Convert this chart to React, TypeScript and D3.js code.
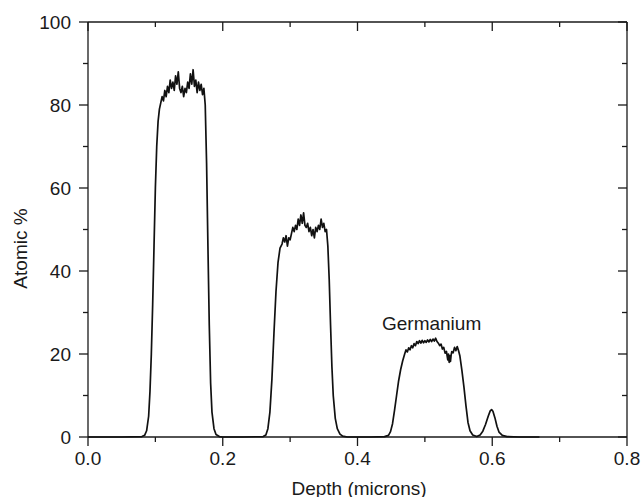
import React from "react";
import * as d3 from "d3";

// ---- data ----
const xMajorTicks = [0.0, 0.2, 0.4, 0.6, 0.8];
const xMinorTicks = [0.1, 0.3, 0.5, 0.7];
const yMajorTicks = [0, 20, 40, 60, 80, 100];
const yMinorTicks = [10, 30, 50, 70, 90];
const xTickLabels = ["0.0", "0.2", "0.4", "0.6", "0.8"];
const yTickLabels = ["0", "20", "40", "60", "80", "100"];

const xTitle = "Depth (microns)";
const yTitle = "Atomic %";
const annotation = { text: "Germanium", depth: 0.51, value: 25.8 };

// [depth (microns), atomic %]
const baselineStart: [number, number][] = [
  [0.0, 0], [0.05, 0], [0.08, 0.1], [0.084, 0.4],
];
const peak1: [number, number][] = [
  [0.087, 1.5], [0.09, 5], [0.092, 11], [0.094, 20], [0.096, 32], [0.098, 46],
  [0.1, 60], [0.102, 70], [0.104, 76], [0.106, 79], [0.108, 80.5],
  [0.110, 82], [0.112, 81], [0.114, 83.5], [0.116, 82], [0.118, 84.5],
  [0.120, 83], [0.122, 86], [0.124, 84], [0.126, 85.5], [0.128, 83.5],
  [0.130, 87], [0.132, 85], [0.134, 88], [0.136, 84], [0.138, 83],
  [0.140, 84.5], [0.142, 82], [0.144, 84], [0.146, 83], [0.148, 85.5],
  [0.150, 84], [0.152, 87.5], [0.154, 85], [0.156, 88.5], [0.158, 84.5],
  [0.160, 86], [0.162, 83], [0.164, 85.5], [0.166, 83.5], [0.168, 85],
  [0.170, 82.5], [0.172, 84], [0.174, 80], [0.176, 66], [0.178, 46],
  [0.180, 27], [0.182, 13], [0.184, 6], [0.187, 2], [0.190, 0.6],
  [0.195, 0.1], [0.2, 0],
];
const gap1: [number, number][] = [[0.23, 0], [0.26, 0.1]];
const peak2: [number, number][] = [
  [0.264, 0.5], [0.267, 2], [0.27, 6], [0.273, 14], [0.276, 25], [0.279, 35],
  [0.282, 42], [0.285, 45.5],
  [0.288, 46.5], [0.290, 48], [0.292, 47], [0.294, 48.5], [0.296, 46],
  [0.298, 48], [0.300, 47.5], [0.302, 49], [0.304, 50.5], [0.306, 49.5],
  [0.308, 51], [0.310, 50], [0.312, 52.5], [0.314, 51], [0.316, 53.5],
  [0.318, 51.5], [0.320, 54], [0.322, 51], [0.324, 50.5], [0.326, 51.5],
  [0.328, 49.5], [0.330, 50.5], [0.332, 48.5], [0.334, 50], [0.336, 48],
  [0.338, 50.5], [0.340, 49.5], [0.342, 51], [0.344, 50], [0.346, 52.5],
  [0.348, 50.5], [0.350, 51.5], [0.352, 49.5], [0.354, 50], [0.356, 46],
  [0.358, 38], [0.360, 27], [0.362, 17], [0.364, 10], [0.367, 4.5],
  [0.370, 2], [0.374, 0.7], [0.378, 0.2], [0.385, 0], [0.39, 0],
];
const gap2: [number, number][] = [[0.42, 0], [0.44, 0.1]];
const peak3: [number, number][] = [
  [0.446, 0.4], [0.449, 1.3], [0.452, 3.2], [0.455, 6.5], [0.458, 10],
  [0.461, 13.5], [0.464, 16.2], [0.467, 18.3],
  [0.470, 20], [0.472, 21], [0.474, 20.5], [0.476, 21.5], [0.478, 21],
  [0.480, 22], [0.482, 21.5], [0.484, 22.5], [0.486, 22], [0.488, 23],
  [0.490, 22.5], [0.492, 23.2], [0.494, 22.6], [0.496, 23.3], [0.498, 22.7],
  [0.500, 23.2], [0.502, 22.8], [0.504, 23.4], [0.506, 22.9], [0.508, 23.5],
  [0.510, 23], [0.512, 23.6], [0.514, 23.1], [0.516, 23.8], [0.518, 23],
  [0.520, 22.6], [0.522, 22], [0.524, 22.4], [0.526, 21.2], [0.528, 21.6],
  [0.530, 20.2], [0.532, 20.6], [0.534, 18.6], [0.535, 20], [0.536, 18],
  [0.537, 19.6], [0.538, 18.2], [0.539, 19.8],
  [0.540, 20.6], [0.542, 20.3], [0.544, 21.6], [0.546, 20.8], [0.548, 21.8],
  [0.550, 20.8], [0.552, 19.5],
  [0.555, 16], [0.558, 12], [0.561, 7.5], [0.564, 3.5], [0.567, 1.5],
  [0.571, 0.5], [0.577, 0.1],
];
const peak4: [number, number][] = [
  [0.582, 0.5], [0.586, 1.4], [0.590, 3], [0.594, 5], [0.597, 6.3],
  [0.599, 6.6], [0.601, 6.2], [0.604, 4.6], [0.607, 2.6], [0.610, 1.2],
  [0.615, 0.4], [0.622, 0.1], [0.64, 0], [0.67, 0],
];
const profile: [number, number][] = [
  ...baselineStart, ...peak1, ...gap1, ...peak2, ...gap2, ...peak3, ...peak4,
];

// ---- layout ----
const W = 642;
const H = 497;
const M = { left: 88, right: 15, top: 22, bottom: 60 };
const FONT = "Liberation Sans, Arial, sans-serif";
const FS = 19;

export default function App() {
  const x = d3.scaleLinear().domain([0, 0.8]).range([M.left, W - M.right]);
  const y = d3.scaleLinear().domain([0, 100]).range([H - M.bottom, M.top]);
  const line = d3
    .line<[number, number]>()
    .x((d) => x(d[0]))
    .y((d) => y(d[1]));

  const x0 = x(0), x1 = x(0.8), y0 = y(0), y1 = y(100);
  const maj = 9, min = 5;
  const axisColor = "#1a1a1a";

  return (
    <svg
      width={W}
      height={H}
      style={{ position: "absolute", left: 0, top: 0, background: "#fff" }}
      fontFamily={FONT}
    >
      <rect x={0} y={0} width={W} height={H} fill="#fff" />
      {/* frame */}
      <g stroke={axisColor} strokeWidth={1.3} fill="none">
        <line x1={x0} x2={x1} y1={y0} y2={y0} />
        <line x1={x0} x2={x1} y1={y1} y2={y1} />
        <line x1={x0} x2={x0} y1={y0} y2={y1} />
        <line x1={x1} x2={x1} y1={y0} y2={y1} />
        {xMajorTicks.map((t) => (
          <g key={"xM" + t}>
            <line x1={x(t)} x2={x(t)} y1={y0} y2={y0 + maj} />
            <line x1={x(t)} x2={x(t)} y1={y1} y2={y1 + maj} />
          </g>
        ))}
        {xMinorTicks.map((t) => (
          <g key={"xm" + t}>
            <line x1={x(t)} x2={x(t)} y1={y0} y2={y0 + min} />
            <line x1={x(t)} x2={x(t)} y1={y1} y2={y1 + min} />
          </g>
        ))}
        {yMajorTicks.map((t) => (
          <g key={"yM" + t}>
            <line x1={x0} x2={x0 - maj} y1={y(t)} y2={y(t)} />
            <line x1={x1} x2={x1 - maj} y1={y(t)} y2={y(t)} />
          </g>
        ))}
        {yMinorTicks.map((t) => (
          <g key={"ym" + t}>
            <line x1={x0} x2={x0 - min} y1={y(t)} y2={y(t)} />
            <line x1={x1} x2={x1 - min} y1={y(t)} y2={y(t)} />
          </g>
        ))}
      </g>
      {/* tick labels */}
      <g fontSize={FS} fill="#1a1a1a">
        {xMajorTicks.map((t, i) => (
          <text key={"xl" + t} x={x(t)} y={y0 + 28} textAnchor="middle">
            {xTickLabels[i]}
          </text>
        ))}
        {yMajorTicks.map((t, i) => (
          <text key={"yl" + t} x={x0 - 17} y={y(t) + 6.6} textAnchor="end">
            {yTickLabels[i]}
          </text>
        ))}
      </g>
      {/* titles */}
      <text
        x={(x0 + x1) / 2 + 1.5}
        y={H - 2.5}
        textAnchor="middle"
        fontSize={FS}
        fill="#1a1a1a"
      >
        {xTitle}
      </text>
      <text
        transform={`translate(27, ${(y0 + y1) / 2 + 19}) rotate(-90)`}
        textAnchor="middle"
        fontSize={FS}
        fill="#1a1a1a"
      >
        {yTitle}
      </text>
      {/* data */}
      <path
        d={line(profile) ?? ""}
        fill="none"
        stroke="#111"
        strokeWidth={1.7}
        strokeLinejoin="round"
      />
      <text
        x={x(annotation.depth)}
        y={y(annotation.value)}
        textAnchor="middle"
        fontSize={FS}
        fill="#1a1a1a"
      >
        {annotation.text}
      </text>
    </svg>
  );
}
